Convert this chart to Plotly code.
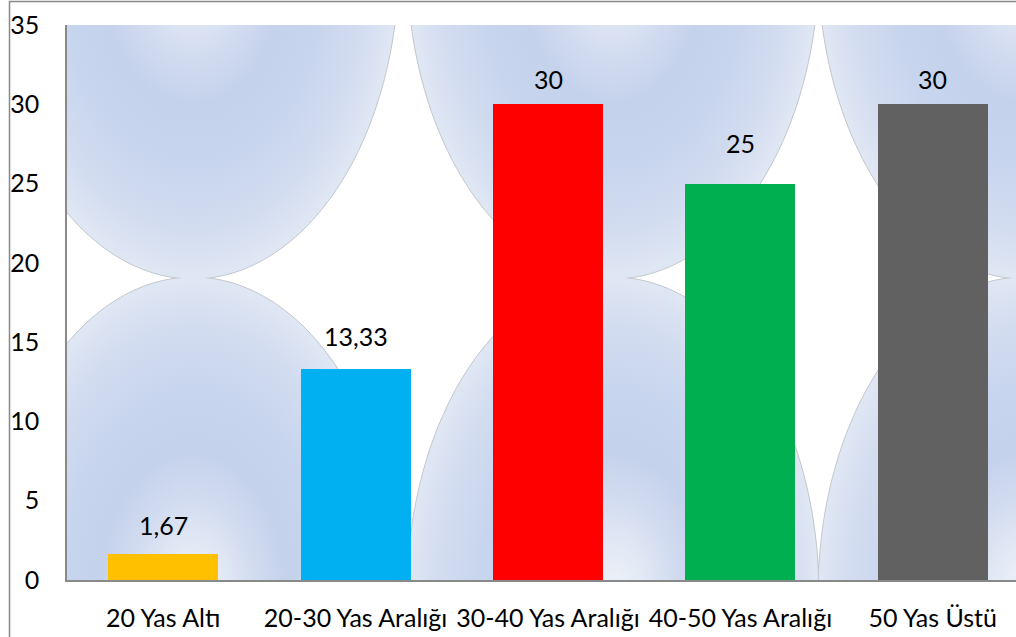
import base64
import plotly.graph_objects as go

# ---- data -------------------------------------------------------------
categories = ["20 Yas Altı", "20-30 Yas Aralığı", "30-40 Yas Aralığı",
              "40-50 Yas Aralığı", "50 Yas Üstü"]
values = [1.67, 13.33, 30, 25, 30]
y_ticks = [0, 5, 10, 15, 20, 25, 30, 35]

# ---- styling ----------------------------------------------------------
bar_colors = ["#FFC000", "#00B0F0", "#FF0000", "#00B050", "#616161"]
label_lift = [29, 33, 25, 41, 25]   # px between bar top and label centre
FONT = "Lato"
FSIZE = 25

W, H = 1016, 637
L, R, T, B = 67, 0, 25, 57
PW, PH = W - L - R, H - T - B


def px_to_paper(px, py):
    return (px - L) / PW, (H - B - py) / PH


def bubble_texture():
    """Tiled bubble pattern for the plot background, as an SVG data URI."""
    stops = [(0.00, "#eef2f9"), (0.15, "#e3e9f5"), (0.30, "#d2dcf0"),
             (0.45, "#c5d2ec"), (0.65, "#c8d5ee"), (0.85, "#d3ddf0"),
             (1.00, "#e0e7f4")]
    stop_xml = "".join(f'<stop offset="{o}" stop-color="{c}"/>' for o, c in stops)
    cols = [193, 613, 1024]
    rows = [(-38, 25, 278), (594, 278, 580)]
    rx, ry = 206, 317
    parts = [
        f'<svg xmlns="http://www.w3.org/2000/svg" width="{PW}" height="{PH}" '
        f'viewBox="{L} {T} {PW} {PH}" preserveAspectRatio="none">',
        f'<defs><radialGradient id="g" cx="0.5" cy="0.5" r="0.5">{stop_xml}</radialGradient>',
    ]
    for i, (_, y0, y1) in enumerate(rows):
        parts.append(f'<clipPath id="c{i}"><rect x="{L}" y="{y0}" width="{PW}" height="{y1 - y0}"/></clipPath>')
    parts.append("</defs>")
    for i, (cy, _, _) in enumerate(rows):
        parts.append(f'<g clip-path="url(#c{i})">')
        for cx in cols:
            parts.append(f'<ellipse cx="{cx}" cy="{cy}" rx="{rx}" ry="{ry}" fill="url(#g)" '
                         f'stroke="#c3c7cd" stroke-width="1"/>')
        parts.append("</g>")
    parts.append("</svg>")
    svg = "".join(parts)
    return "data:image/svg+xml;base64," + base64.b64encode(svg.encode()).decode()


def fmt(v):
    return f"{v:g}".replace(".", ",")


fig = go.Figure(
    go.Bar(
        x=categories,
        y=values,
        marker=dict(color=bar_colors, line=dict(width=0)),
        width=0.572,
        hoverinfo="x+y",
    )
)

annotations = [
    dict(x=c, y=v, text=fmt(v), showarrow=False, yshift=lift, yanchor="middle",
         font=dict(family=FONT, size=FSIZE, color="#000000"))
    for c, v, lift in zip(categories, values, label_lift)
]

# outer chart frame (left and top edges)
fx, fy_top = px_to_paper(9.5, 1.5)
_, fy_bot = px_to_paper(0, 700)
fx_right, _ = px_to_paper(1100, 0)
frame = dict(type="path", xref="paper", yref="paper",
             path=f"M {fx},{fy_bot} L {fx},{fy_top} L {fx_right},{fy_top}",
             line=dict(color="#898989", width=1.5), layer="above")

# category band is ~192.4 px wide; the plot area ends a little before the last band's edge
band = 192.4
x_max = -0.5 + PW / band

fig.update_layout(
    width=W, height=H,
    margin=dict(l=L, r=R, t=T, b=B, pad=0),
    paper_bgcolor="white",
    plot_bgcolor="rgba(0,0,0,0)",
    showlegend=False,
    font=dict(family=FONT, size=FSIZE, color="#000000"),
    annotations=annotations,
    shapes=[frame],
    images=[dict(source=bubble_texture(), xref="paper", yref="paper",
                 x=0, y=1, sizex=1, sizey=1, xanchor="left", yanchor="top",
                 sizing="stretch", layer="below")],
    xaxis=dict(
        range=[-0.5, x_max],
        showline=True, linecolor="#898989", linewidth=1.5,
        showgrid=False, zeroline=False, ticks="",
        tickangle=0, ticklabelstandoff=15,
        tickfont=dict(family=FONT, size=FSIZE, color="#000000"),
        fixedrange=True,
    ),
    yaxis=dict(
        range=[0, 35], tickvals=y_ticks,
        showline=True, linecolor="#898989", linewidth=1.5,
        showgrid=False, zeroline=False, ticks="",
        ticklabelstandoff=21,
        tickfont=dict(family=FONT, size=FSIZE, color="#000000"),
        fixedrange=True,
    ),
    bargap=0,
)

fig.write_html("out.html", config={"displayModeBar": False})
